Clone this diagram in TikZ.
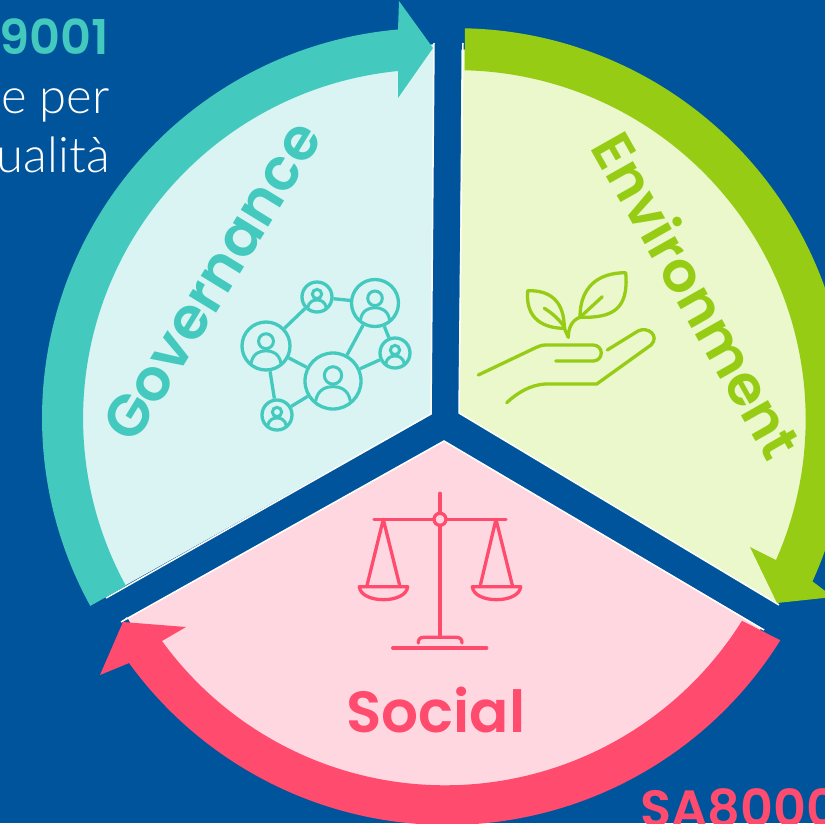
\documentclass[tikz,border=0pt]{standalone}
\usepackage{fontspec}
\setmainfont{Lato Light}
\newfontfamily\headfont{Poppins SemiBold}
\definecolor{bgBlue}{RGB}{0,84,155}
\definecolor{govTeal}{RGB}{67,201,190}
\definecolor{govLight}{RGB}{217,244,243}
\definecolor{envGreen}{RGB}{151,204,20}
\definecolor{envLight}{RGB}{234,248,204}
\definecolor{socPink}{RGB}{255,75,110}
\definecolor{socLight}{RGB}{255,215,224}

\begin{document}
\begin{tikzpicture}[x=1pt, y=-1pt,
		sector/.style={line width=1.5pt, draw=white, line join=miter},
		bigword/.style={font=\headfont\fontsize{#1}{#1}\selectfont},
		icon/.style={line width=3.3pt, line cap=round, line join=round},
		personring/.style={circle, draw=govTeal, line width=3.3pt, inner sep=0pt},
		sidetext/.style={anchor=base east, inner sep=0pt, text=white, font=\fontsize{49}{49}\selectfont}]
		\useasboundingbox (0, 0) rectangle (825, 823);
		\clip (0, 0) rectangle (825, 823);
		% Draw background
		\fill[bgBlue] (0, 0) rectangle (825, 823);

		% Side labels
		\node[anchor=base east, inner sep=0pt, text=govTeal, bigword=48] (isoTitle) at (109, 54) {9001};
		\node[sidetext] (isoLineA) at (110, 113) {ne per};
		\node[sidetext] (isoLineB) at (110, 172) {ualità};
		\node[anchor=base west, inner sep=0pt, text=socPink, bigword=51] (saTitle) at (640, 826) {SA8000};

		% Fill the three sectors
		\fill[govLight] (431, 414) -- (434, 44) -- (400, 51) arc[start angle=265, end angle=151.3, radius=368] -- cycle;
		\fill[envLight] (459, 413) -- (778, 604) -- (793, 570) arc[start angle=24, end angle=-89, radius=370] -- cycle;
		\fill[socLight] (444, 441) -- (121, 622) -- (127, 617) arc[start angle=150, end angle=32, radius=370] -- (765, 630) -- cycle;
		% White edges of the sectors
		\draw[sector] (434, 43) -- (431, 414) -- (106, 598);
		\draw[sector] (463, 43) -- (459, 413) -- (779, 605);
		\draw[sector] (121, 622) -- (444, 441) -- (764, 630);

		% Arrows round the sectors
		\fill[govTeal] (432, 418) ++(151.2:390) arc[start angle=151.2, end angle=265, radius=390]
			-- (399, 1) -- (433, 48) -- (398, 98) -- (398, 71)
			arc[start angle=264.4, end angle=151.3, radius=349] -- cycle;
		\fill[envGreen] (456.7, 419.2) ++(-88.8:391) arc[start angle=-88.8, end angle=24.5, radius=391]
			-- (833, 597) -- (777, 603) -- (750, 547) -- (776, 560)
			arc[start angle=23.8, end angle=-88.7, radius=349] -- cycle;
		\fill[socPink] (447, 432) ++(32:393) arc[start angle=32, end angle=144, radius=393]
			-- (100, 675) -- (123, 622) -- (186, 627) -- (162, 641)
			arc[start angle=144, end angle=32, radius=350] -- cycle;

		% Big words
		\node[bigword=58, text=govTeal, rotate=58.5] (govWord) at (212, 281) {Governance};
		\node[bigword=56, text=envGreen, rotate=-60.5] (envWord) at (698, 295) {Environment};
		\node[bigword=58, text=socPink] (socWord) at (436, 710) {Social};

		% People network
		\foreach \name/\px/\py/\rr in {netA/317/297/15, netB/375/303/23.5, netC/266/346/24, netD/333/381/28, netE/395/353/15, netF/277/415/15} {
			\node[personring, minimum size=2*\rr pt] (\name) at (\px, \py) {};
			\begin{scope}[shift={(\px, \py)}, x=\rr pt, y=-\rr pt]
				\draw[govTeal, line width=3pt] (0, -.2) circle[radius=.31];
				\draw[govTeal, line width=3pt] (-.62, .72) .. controls (-.55, .3) and (-.25, .2) .. (0, .2) .. controls (.25, .2) and (.55, .3) .. (.62, .72);
			\end{scope}
		}
		\foreach \from/\to in {netA/netB, netA/netC, netB/netD, netB/netE, netC/netD, netC/netF, netD/netE, netD/netF}
			\draw[govTeal, line width=3.3pt] (\from) -- (\to);

		% Plant on a hand
		\begin{scope}[icon, draw=envGreen]
			\draw (527.7, 290.7) .. controls (552, 290) and (564.3, 303) .. (564.3, 328.3) .. controls (545, 328.3) and (525, 320) .. cycle;
			\draw (544.3, 308.3) .. controls (552, 313) and (560, 320) .. (565, 328);
			\draw (625.7, 272.7) .. controls (598, 272.7) and (580, 287) .. (580, 317.3) .. controls (612, 318) and (629, 310) .. cycle;
			\draw (602.3, 296.7) -- (580, 317.3) .. controls (572, 320) and (568.3, 328) .. (568.3, 337.3);
			\draw (564.3, 328.3) -- (568.3, 337.3);
			\draw (478.3, 375) -- (536, 347.5) .. controls (539, 346) and (542, 345) .. (546, 345) -- (593.3, 345) arc[start angle=-90, end angle=90, radius=8] -- (555.7, 361);
			\draw (607.3, 350) -- (638, 331) .. controls (648, 326) and (660, 336) .. (651, 345) -- (596.7, 384) -- (545, 384) .. controls (530, 385) and (517, 393) .. (506.7, 402.7);
		\end{scope}

		% Scales
		\begin{scope}[icon, draw=socPink, line cap=round]
			\draw (440, 493.3) -- (440, 637);
			\draw (374, 519.3) -- (506, 519.3);
			\draw (366.7, 586.7) -- (383.3, 519.3) -- (400, 586.7);
			\draw (480, 586.7) -- (496, 519.3) -- (512.7, 586.7);
			\draw (359.3, 586.7) -- (407.7, 586.7) .. controls (406, 604) and (361, 604) .. cycle;
			\draw (472.3, 586.7) -- (520.7, 586.7) .. controls (519, 604) and (474, 604) .. cycle;
			\draw (392.7, 648) -- (486.7, 648);
			\draw (418.3, 643) .. controls (418.3, 639) and (420, 637.3) .. (424, 637.3) -- (456, 637.3) .. controls (460, 637.3) and (462, 639) .. (462, 643);
			\node[circle, draw=socPink, fill=socLight, line width=3.3pt, minimum size=12pt, inner sep=0pt] (scaleHub) at (440, 519.3) {};
		\end{scope}
\end{tikzpicture}
\end{document}
